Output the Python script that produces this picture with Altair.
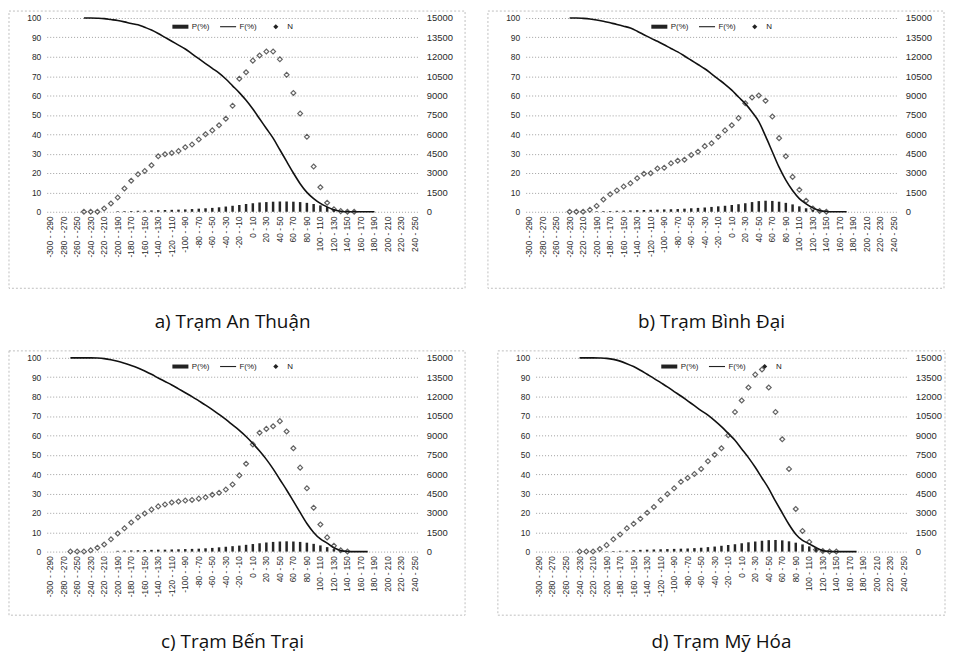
import altair as alt
import pandas as pd

# ---------------- categories / ticks ----------------
EDGES = list(range(-300, 250, 10))                 # lower edge of each 10 cm class
CATS = [f"{a} - {a + 10}" for a in EDGES]          # "-300 - -290" ... "240 - 250"
SHOWN = CATS[::2]                                  # every other label is printed
LEFT_TICKS = list(range(0, 101, 10))
RIGHT_TICKS = list(range(0, 15001, 1500))
SERIES = ["P(%)", "F(%)", "N"]

# ---------------- a) An Thuan ----------------
TITLE_A = "a) Trạm An Thuận"
P_A_START = 10
P_A = [0.3, 0.35, 0.4, 0.5, 0.6, 0.7, 0.8, 0.9, 1.0, 1.1, 1.2, 1.4, 1.6, 1.8, 2.0, 2.3, 2.7,
       3.1, 3.5, 4.0, 4.4, 4.8, 5.0, 5.2, 5.3, 5.3, 5.2, 5.0, 4.6, 4.0, 3.3, 2.4, 1.3, 0.4]
F_A_START = 5
F_A = [100, 100, 99.9, 99.7, 99.2, 98.7, 98.0, 97.2, 96.5, 95.2, 93.8, 92.0, 90.0, 88.0, 86.0,
       84.0, 81.5, 79.0, 76.5, 74.0, 71.5, 68.5, 65.0, 61.5, 57.5, 53.0, 48.0, 43.0, 38.0, 32.0,
       26.0, 20.0, 14.5, 10.0, 6.8, 4.3, 2.5, 1.0, 0.3, 0, 0, 0, 0, 0]
N_A_START = 5
N_A = [0, 0, 0, 250, 640, 1100, 1800, 2400, 2900, 3150, 3600, 4300, 4450, 4550, 4700,
       5000, 5200, 5600, 6000, 6300, 6700, 7200, 8200, 10300, 10800, 11700, 12100, 12400, 12400,
       11800, 10600, 9200, 7600, 5800, 3500, 1900, 700, 200, 50, 0, 0]

# ---------------- b) Binh Dai ----------------
TITLE_B = "b) Trạm Bình Đại"
P_B_START = 10
P_B = [0.3, 0.35, 0.4, 0.5, 0.6, 0.7, 0.8, 0.9, 1.0, 1.1, 1.2, 1.3, 1.4, 1.6, 1.8, 2.0, 2.2,
       2.5, 2.8, 3.1, 3.5, 3.9, 4.4, 5.0, 5.5, 5.7, 5.6, 5.2, 4.6, 3.8, 2.8, 1.8, 1.0, 0.3]
F_B_START = 6
F_B = [100, 100, 99.8, 99.5, 99.0, 98.3, 97.5, 96.7, 95.8, 94.8, 93.2, 91.4, 89.6, 88.0, 86.2,
       84.3, 82.5, 80.4, 78.2, 76.0, 73.8, 71.2, 68.5, 65.8, 62.8, 59.2, 55.8, 51.5, 46.5, 39.0,
       31.0, 23.0, 16.3, 11.0, 6.8, 4.1, 2.0, 0.6, 0.1, 0, 0, 0]
N_B_START = 6
N_B = [0, 0, 0, 150, 450, 950, 1350, 1650, 1950, 2200, 2600, 2950, 2980, 3350, 3400,
       3750, 3950, 4030, 4400, 4650, 5080, 5300, 5800, 6300, 6700, 7250, 8400, 8850, 9000,
       8600, 7370, 5700, 4300, 2700, 1700, 850, 250, 60, 0]

# ---------------- c) Ben Trai ----------------
TITLE_C = "c) Trạm Bến Trại"
P_C_START = 10
P_C = [0.4, 0.5, 0.6, 0.7, 0.8, 0.9, 1.0, 1.0, 1.1, 1.2, 1.3, 1.4, 1.5, 1.7, 1.9, 2.2, 2.5,
       2.8, 3.1, 3.5, 3.9, 4.3, 4.7, 5.0, 5.2, 5.3, 5.2, 5.0, 4.6, 4.0, 3.2, 2.3, 1.3, 0.4]
F_C_START = 3
F_C = [100, 100, 100, 100, 99.9, 99.6, 99.0, 98.2, 97.2, 96.1, 94.8, 93.2, 91.5, 89.6, 87.8,
       86.0, 84.0, 82.0, 80.0, 77.8, 75.6, 73.3, 70.8, 68.2, 65.4, 62.6, 59.4, 55.8, 51.9, 47.6,
       42.7, 37.2, 31.8, 26.0, 20.2, 14.5, 9.9, 6.5, 4.4, 2.0, 0.6, 0.1, 0, 0, 0]
N_C_START = 3
N_C = [0, 0, 0, 100, 300, 550, 950, 1400, 1800, 2250, 2650, 2950, 3250, 3500, 3650,
       3800, 3880, 3950, 4000, 4100, 4200, 4400, 4550, 4800, 5200, 5900, 6800, 8300, 9200,
       9500, 9700, 10100, 9300, 8000, 6500, 4900, 3400, 2100, 1100, 450, 100, 0]

# ---------------- d) My Hoa ----------------
TITLE_D = "d) Trạm Mỹ Hóa"
P_D_START = 10
P_D = [0.2, 0.3, 0.4, 0.5, 0.7, 0.9, 1.0, 1.1, 1.2, 1.3, 1.4, 1.5, 1.6, 1.8, 2.0, 2.3, 2.6,
       3.0, 3.4, 3.8, 4.3, 4.8, 5.2, 5.6, 5.9, 6.0, 5.8, 5.3, 4.6, 3.7, 2.7, 1.7, 0.9, 0.3]
F_D_START = 6
F_D = [100, 100, 100, 99.9, 99.7, 99.2, 98.3, 97.0, 95.5, 93.6, 91.5, 89.4, 87.2, 85.0, 82.6,
       80.3, 77.8, 75.3, 72.8, 70.4, 67.6, 64.5, 61.0, 57.5, 53.0, 48.5, 43.5, 38.0, 32.5, 26.0,
       20.0, 14.0, 9.0, 5.8, 4.0, 2.0, 0.5, 0.1, 0, 0, 0, 0]
N_D_START = 6
N_D = [0, 0, 0, 200, 500, 950, 1330, 1800, 2150, 2550, 3000, 3450, 4000, 4450, 4900,
       5400, 5700, 6000, 6400, 7000, 7500, 8000, 9000, 10800, 11700, 12700, 13700, 14100, 12700,
       10800, 8700, 6400, 3300, 1600, 750, 150, 50, 0, 0]

# ---------------- styling ----------------
W, H = 374, 195
FONT = "Liberation Sans"
INK = "#222222"
P_SYMBOL = "M-1,-0.25L1,-0.25L1,0.25L-1,0.25Z"
F_SYMBOL = "M-1,-0.07L1,-0.07L1,0.07L-1,0.07Z"
N_SYMBOL = "M0,-0.32L0.32,0L0,0.32L-0.32,0Z"


def series_df(start, values, name):
    return pd.DataFrame({"cat": CATS[start:start + len(values)], name: values})


def panel(title, p_start, p_vals, f_start, f_vals, n_start, n_vals,
          box_right, box_bottom, title_offset):
    x_enc = alt.X(
        "cat:O",
        scale=alt.Scale(domain=CATS, paddingInner=0, paddingOuter=0),
        axis=alt.Axis(values=SHOWN, labelAngle=-90, labelFontSize=8.5, labelFont=FONT,
                      labelColor="#2a2a2a", ticks=False, domain=False, labelPadding=4,
                      grid=False),
        title=None,
    )
    left_axis = alt.Axis(values=LEFT_TICKS, orient="left", grid=True, gridDash=[1, 2],
                         gridColor="#777777", gridWidth=0.7, domain=False, ticks=False,
                         labelFontSize=8.5, labelFont=FONT, labelColor="#2a2a2a",
                         labelPadding=6, title=None)
    right_axis = alt.Axis(values=RIGHT_TICKS, orient="right", grid=False, domain=False,
                          ticks=False, format="d", labelFontSize=9.5, labelFont=FONT,
                          labelColor="#2a2a2a", labelPadding=8, title=None)
    y_left = alt.Scale(domain=[0, 100], nice=False)

    box = alt.Chart(pd.DataFrame({"k": [0]})).mark_rect(
        fillOpacity=0, stroke="#b0b0b0", strokeDash=[2, 2], strokeWidth=0.8
    ).encode(x=alt.value(-38), x2=alt.value(W + box_right),
             y=alt.value(-7), y2=alt.value(H + box_bottom))

    bars = alt.Chart(series_df(p_start, p_vals, "P")).mark_bar(
        size=2.5, color="#262626"
    ).encode(x=x_enc, y=alt.Y("P:Q", scale=y_left, axis=left_axis))

    line = alt.Chart(series_df(f_start, f_vals, "F")).mark_line(
        color="#111111", strokeWidth=1.6, interpolate="monotone"
    ).encode(x=x_enc, y=alt.Y("F:Q", scale=y_left, axis=left_axis))

    legend_layer = alt.Chart(pd.DataFrame({"series": SERIES})).transform_filter(
        "false"
    ).mark_point(filled=True, color=INK).encode(
        shape=alt.Shape(
            "series:N",
            scale=alt.Scale(domain=SERIES, range=[P_SYMBOL, F_SYMBOL, N_SYMBOL]),
            legend=alt.Legend(orient="none", legendX=126, legendY=0, direction="horizontal",
                              title=None, labelFontSize=8, labelFont=FONT, labelColor=INK,
                              symbolSize=260, symbolStrokeWidth=0, symbolFillColor=INK,
                              symbolOpacity=1, columnPadding=10, labelOffset=3),
        )
    )

    pts = alt.Chart(series_df(n_start, n_vals, "N")).mark_point(
        shape="diamond", size=24, filled=False, color="#222222", strokeWidth=1.2
    ).encode(x=x_enc, y=alt.Y("N:Q", scale=alt.Scale(domain=[0, 15000], nice=False),
                              axis=right_axis))

    left = alt.layer(box, bars, line, legend_layer)
    return alt.layer(left, pts).resolve_scale(y="independent").properties(
        width=W, height=H,
        title=alt.TitleParams(title, orient="bottom", anchor="middle", fontSize=19,
                              font="Open Sans", fontWeight="normal", color="#111111",
                              offset=title_offset),
    )


pa = panel(TITLE_A, P_A_START, P_A, F_A_START, F_A, N_A_START, N_A, 47, 77, 25)
pb = panel(TITLE_B, P_B_START, P_B, F_B_START, F_B, N_B_START, N_B, 47, 77, 25)
pc = panel(TITLE_C, P_C_START, P_C, F_C_START, F_C, N_C_START, N_C, 47, 64, 18)
pd_ = panel(TITLE_D, P_D_START, P_D, F_D_START, F_D, N_D_START, N_D, 38, 64, 18)

row1 = alt.hconcat(pa, pb, spacing=21).resolve_scale(shape="independent").resolve_legend(shape="independent")
row2 = alt.hconcat(pc, pd_, spacing=31).resolve_scale(shape="independent").resolve_legend(shape="independent")

chart = alt.vconcat(row1, row2, spacing=17).resolve_scale(
    shape="independent"
).resolve_legend(shape="independent").properties(
    padding=0, background="white"
).configure_view(strokeWidth=0)

chart.save("out.html", embed_options={"renderer": "svg", "actions": False})
